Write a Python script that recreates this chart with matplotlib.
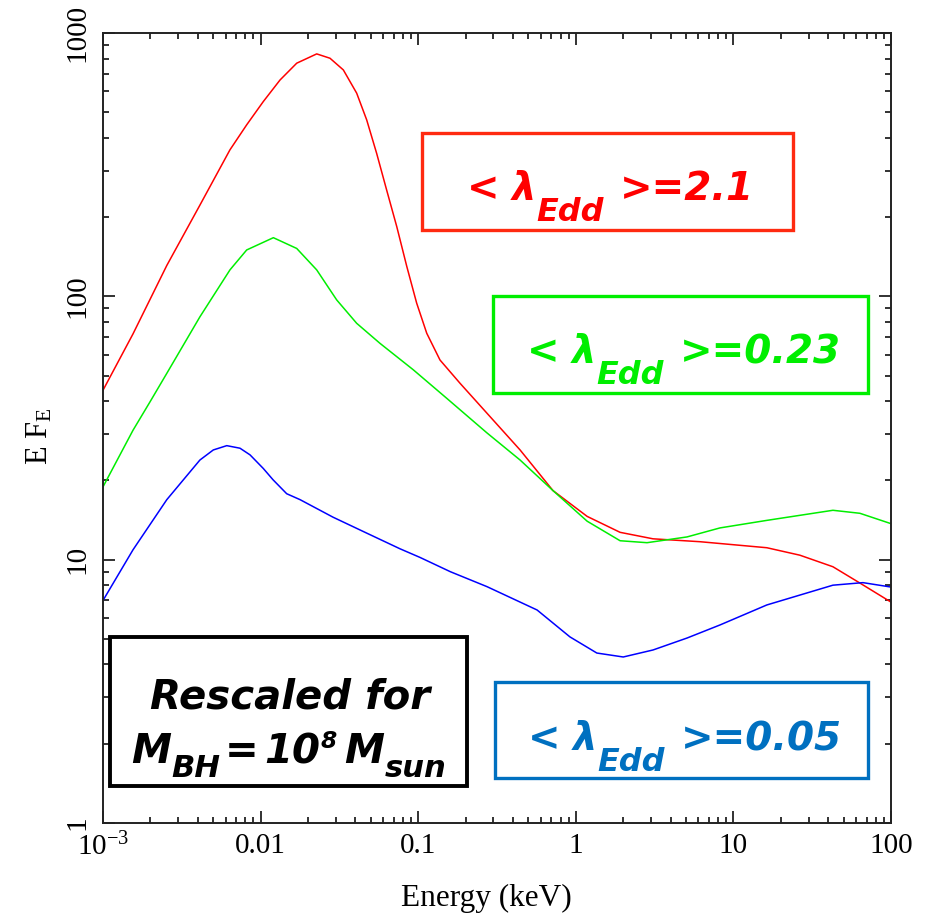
import matplotlib
matplotlib.use('Agg')
import matplotlib.pyplot as plt
from matplotlib.patches import Rectangle
from matplotlib.ticker import FixedLocator, FixedFormatter, LogLocator, NullFormatter

# ---------------- data ----------------
energy_red = [0.001, 0.00155, 0.00254, 0.00412, 0.00639, 0.00816, 0.0104, 0.01328, 0.01695,
              0.0227, 0.02756, 0.0335, 0.0407, 0.0471, 0.0545, 0.0631, 0.0731, 0.0846,
              0.0978, 0.1133, 0.1375, 0.184, 0.273, 0.443, 0.716, 1.18, 1.91, 3.09,
              6.14, 16.3, 26.4, 42.8, 63.5, 100]
eff_red = [44, 72, 131, 222, 360, 448, 549, 663, 768,
           833, 802, 724, 591, 468, 349, 253, 184, 130,
           94.2, 72.4, 57.3, 46.8, 36, 26.1, 18.3, 14.6, 12.7, 12.0,
           11.7, 11.1, 10.4, 9.4, 8.15, 6.9]

energy_green = [0.001, 0.00155, 0.002, 0.00254, 0.00412, 0.00639, 0.00816, 0.01205, 0.01695,
                0.0227, 0.0304, 0.0407, 0.0572, 0.0931, 0.1517, 0.273,
                0.443, 0.716, 1.18, 1.91, 2.83, 5.08, 8.22, 16.3, 42.8, 63.5, 100]
eff_green = [18.9, 31, 40, 51, 83.6, 126, 150, 167, 152,
             126, 96.9, 79.0, 66.3, 52.6, 41.0, 30.3,
             23.9, 18.3, 14.0, 11.8, 11.6, 12.2, 13.2, 14.1, 15.4, 15.0, 13.7]

energy_blue = [0.001, 0.00155, 0.00254, 0.00412, 0.00501, 0.0061, 0.0074, 0.00857, 0.0104,
               0.012, 0.01464, 0.0178, 0.0288, 0.0473, 0.0766, 0.1026, 0.16, 0.273,
               0.568, 0.918, 1.36, 2.0, 3.09, 5.08, 8.22, 16.3, 42.8, 66.4, 100]
eff_blue = [7.0, 10.9, 16.9, 23.9, 26.1, 27.1, 26.5, 25, 22.2,
            20.1, 17.8, 16.9, 14.5, 12.6, 11.0, 10.2, 9.0, 7.9,
            6.44, 5.09, 4.42, 4.27, 4.54, 5.04, 5.65, 6.73, 8.0, 8.18, 7.87]

x_ticks = [1e-3, 1e-2, 1e-1, 1, 10, 100]
x_ticklabels = ['$10^{-3}$', '0.01', '0.1', '1', '10', '100']
y_ticks = [1, 10, 100, 1000]
y_ticklabels = ['1', '10', '100', '1000']

label_red = '>=2.1'
label_green = '>=0.23'
label_blue = '>=0.05'

# ---------------- style ----------------
plt.rcParams['mathtext.fontset'] = 'custom'
plt.rcParams['mathtext.rm'] = 'Liberation Serif'
plt.rcParams['mathtext.it'] = 'Liberation Serif:italic'
plt.rcParams['mathtext.bf'] = 'Liberation Serif:bold'
SERIF = ['Liberation Serif', 'DejaVu Serif']
BOXFONT = ['DejaVu Sans']

W, H = 930, 921
fig = plt.figure(figsize=(W / 100, H / 100), dpi=100)
ax = fig.add_axes([103 / W, 1 - 823 / H, 788 / W, 790 / H])

ax.plot(energy_red, eff_red, color='#ff0000', lw=1.1)
ax.plot(energy_green, eff_green, color='#00ee00', lw=1.1)
ax.plot(energy_blue, eff_blue, color='#0000ff', lw=1.1)

ax.set_xscale('log')
ax.set_yscale('log')
ax.set_xlim(1e-3, 100)
ax.set_ylim(1, 1000)

ax.xaxis.set_major_locator(FixedLocator(x_ticks))
ax.xaxis.set_major_formatter(FixedFormatter(x_ticklabels))
ax.yaxis.set_major_locator(FixedLocator(y_ticks))
ax.yaxis.set_major_formatter(FixedFormatter(y_ticklabels))
ax.xaxis.set_minor_locator(LogLocator(base=10, subs=range(2, 10), numticks=20))
ax.yaxis.set_minor_locator(LogLocator(base=10, subs=range(2, 10), numticks=20))
ax.xaxis.set_minor_formatter(NullFormatter())
ax.yaxis.set_minor_formatter(NullFormatter())

ax.tick_params(which='both', direction='in', top=True, right=True, width=1.3, color='#222222')
ax.tick_params(which='major', length=8.6)
ax.tick_params(which='minor', length=4.3)
ax.tick_params(axis='x', which='major', labelsize=21, pad=7)
ax.tick_params(axis='y', which='major', labelsize=21, pad=9)
for lbl in ax.get_xticklabels() + ax.get_yticklabels():
    lbl.set_family(SERIF)
for lbl in ax.get_yticklabels():
    lbl.set_rotation(90)
    lbl.set_va('center')
for s in ax.spines.values():
    s.set_linewidth(1.4)
    s.set_color('#222222')

ax.set_xlabel('Energy (keV)', fontsize=22.5, family=SERIF)
ax.xaxis.set_label_coords((486 - 103) / 788, (823 - 884) / 790)
ax.set_ylabel('E F$_{\\mathrm{E}}$', fontsize=22, family=SERIF)
ax.yaxis.set_label_coords((54 - 103) / 788, (823 - 436) / 790)


# ---------------- annotation boxes ----------------
def box(x0, y0, x1, y1, color, lw):
    fig.add_artist(Rectangle((x0 / W, 1 - y1 / H), (x1 - x0) / W, (y1 - y0) / H,
                             transform=fig.transFigure, fill=False, edgecolor=color,
                             lw=lw, joinstyle='miter'))


renderer = fig.canvas.get_renderer()


def rich(segs, cx, base_y, color):
    items = []
    total = 0
    for text, size, dy, gap in segs:
        t = fig.text(0, 0, text, fontsize=size, family=BOXFONT, weight='bold',
                     style='italic', color=color, va='baseline', ha='left')
        w = t.get_window_extent(renderer).width
        items.append((t, dy, gap, w))
        total += gap + w
    x = cx - total / 2
    for t, dy, gap, w in items:
        x += gap
        t.set_position((x / W, 1 - (base_y + dy) / H))
        x += w


S = 28
edd = [('<', S, 0, 0), ('λ', S, 0, 12), ('Edd', 0.82 * S, 21, 0)]
box(422, 133, 793, 230, '#ff2a10', 2.4)
rich(edd + [(label_red, S, 0, 16)], 610, 200, '#ff0000')

box(493, 296, 868, 393, '#00ee00', 2.4)
rich(edd + [(label_green, S, 0, 16)], 684, 363, '#00ee00')

box(495, 682, 868, 778, '#0070c0', 2.4)
rich(edd + [(label_blue, S, 0, 16)], 685, 750, '#0070c0')

box(110, 637, 467, 786, '#000000', 2.8)
S2 = 29
rich([('Rescaled for', S2, 0, 0)], 290, 708, '#000000')
rich([('M', S2, 0, 0), ('BH', 0.76 * S2, 14, 0), ('=', S2, 0, 5), ('10', S2, 0, 5),
      ('8', 0.58 * S2, -15, 1), ('M', S2, 0, 7), ('sun', 0.76 * S2, 14, 1)],
     289, 763, '#000000')

fig.savefig('out.png', dpi=100)
